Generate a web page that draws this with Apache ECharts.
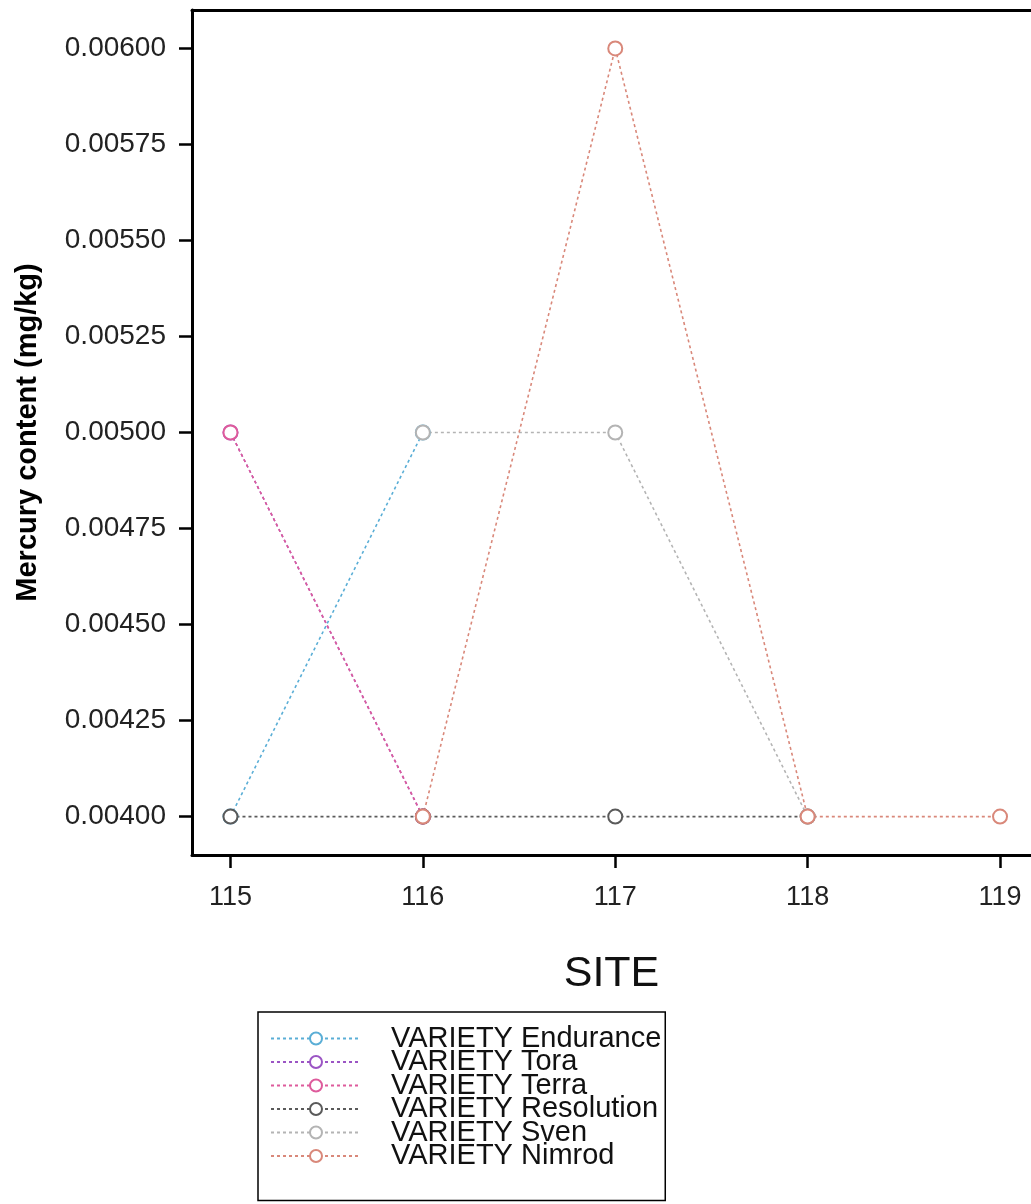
<!DOCTYPE html>
<html>
<head>
<meta charset="utf-8">
<script src="https://cdn.jsdelivr.net/npm/echarts@6/dist/echarts.min.js"></script>
<style>
html,body{margin:0;padding:0;background:#fff;}
#chart{width:1031px;height:1204px;}
</style>
</head>
<body>
<div id="chart"></div>
<script>
var sites = [115, 116, 117, 118, 119];
var yTicks = [0.004, 0.00425, 0.0045, 0.00475, 0.005, 0.00525, 0.0055, 0.00575, 0.006];
var seriesNames = ['VARIETY Endurance', 'VARIETY Tora', 'VARIETY Terra', 'VARIETY Resolution', 'VARIETY Sven', 'VARIETY Nimrod'];
var endurance  = [0.004, 0.005, null, null, null];
var tora       = [0.005, 0.004, null, null, null];
var terra      = [0.005, 0.004, null, null, null];
var resolution = [0.004, 0.004, 0.004, 0.004, null];
var sven       = [null, 0.005, 0.005, 0.004, null];
var nimrod     = [null, 0.004, 0.006, 0.004, 0.004];
var colors = ['#5aaed6', '#9b55c4', '#de5b9c', '#5a5a5a', '#b4b4b4', '#d9887a'];
var values = [endurance, tora, terra, resolution, sven, nimrod];

function pairs(arr) {
  var out = [];
  for (var i = 0; i < sites.length; i++) {
    if (arr[i] !== null) out.push([sites[i], arr[i]]);
  }
  return out;
}

var series = seriesNames.map(function (name, k) {
  return {
    name: name,
    type: 'line',
    data: pairs(values[k]),
    symbol: 'emptyCircle',
    symbolSize: 14,
    showAllSymbol: true,
    itemStyle: { color: colors[k], borderWidth: 1.3 },
    lineStyle: { color: colors[k], width: 1.6, type: [3, 3] },
    emphasis: { disabled: true },
    animation: false
  };
});

var FONT = 'Liberation Sans, Arial, sans-serif';
var chart = echarts.init(document.getElementById('chart'));
chart.setOption({
  backgroundColor: '#fff',
  animation: false,
  textStyle: { fontFamily: FONT },
  grid: { left: 192, top: 10, right: 0, bottom: 349, show: false },
  xAxis: [{
    type: 'value',
    min: 114.8, max: 119.161,
    name: 'SITE',
    nameLocation: 'middle',
    nameGap: 98,
    nameTextStyle: { fontSize: 43, color: '#111', fontFamily: FONT },
    axisLine: { show: true, onZero: false, lineStyle: { color: '#000', width: 3 } },
    axisTick: { show: true, length: 13, lineStyle: { color: '#000', width: 2.5 }, customValues: sites },
    axisLabel: { fontSize: 27, color: '#222', margin: 29, fontFamily: FONT, customValues: sites, formatter: function (v) { return String(v); } },
    splitLine: { show: false }
  }, {
    type: 'value',
    position: 'top',
    min: 114.8, max: 119.161,
    axisLine: { show: true, onZero: false, lineStyle: { color: '#000', width: 3 } },
    axisTick: { show: false },
    axisLabel: { show: false },
    splitLine: { show: false }
  }],
  yAxis: {
    type: 'value',
    min: 0.0039, max: 0.0061,
    name: 'Mercury content (mg/kg)',
    nameLocation: 'middle',
    nameGap: 150,
    nameTextStyle: { fontSize: 29, fontWeight: 'bold', color: '#000', fontFamily: FONT },
    axisLine: { show: true, onZero: false, lineStyle: { color: '#000', width: 3 } },
    axisTick: { show: true, length: 13, lineStyle: { color: '#000', width: 2.5 }, customValues: yTicks },
    axisLabel: { fontSize: 28, color: '#222', margin: 26, fontFamily: FONT, customValues: yTicks, formatter: function (v) { return v.toFixed(5); } },
    splitLine: { show: false }
  },
  legend: {
    orient: 'vertical',
    left: 258, top: 1012,
    padding: [12, 4, 30, 12],
    borderColor: '#000', borderWidth: 1.5,
    itemWidth: 90, itemHeight: 15,
    itemGap: -5.5,
    selectedMode: false,
    data: seriesNames,
    textStyle: { fontSize: 29, color: '#111', fontFamily: FONT, padding: [0, 0, 0, 25] }
  },
  series: series
});
</script>
</body>
</html>
